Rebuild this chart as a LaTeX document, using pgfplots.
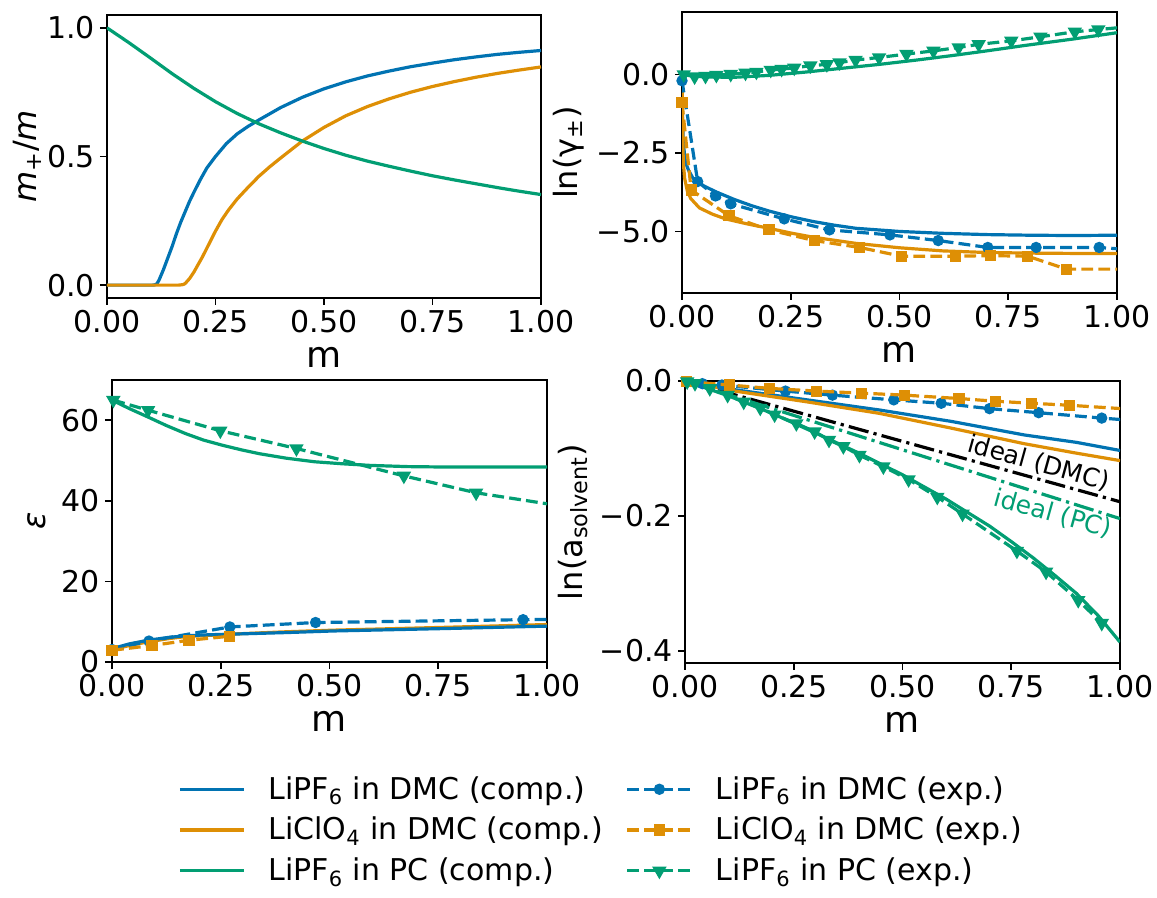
\documentclass[border=0pt]{standalone}
\usepackage{fontspec}
\setmainfont{DejaVu Sans}
\usepackage{pgfplots}
\pgfplotsset{compat=1.18}
\definecolor{cbblue}{HTML}{0173B2}
\definecolor{cborange}{HTML}{DE8F05}
\definecolor{cbgreen}{HTML}{029E73}
\newcommand{\tfs}{\fontsize{15}{18}\selectfont}
\newcommand{\yfs}{\fontsize{16}{19}\selectfont}
\newcommand{\xfs}{\fontsize{18}{21}\selectfont}
\newcommand{\lfs}{\fontsize{15}{18}\selectfont}
\pgfplotsset{
  panel/.style={
    scale only axis, xmin=0, xmax=1,
    axis line style={line width=0.8pt},
    tick align=outside, tick pos=left, major tick length=3.5pt,
    every tick/.style={black, line width=0.8pt},
    xtick={0,0.25,0.5,0.75,1}, xticklabels={0.00,0.25,0.50,0.75,1.00},
    tick label style={font=\tfs, inner sep=2.4pt},
    ylabel style={font=\yfs, inner sep=0pt},
    xlabel style={font=\xfs, inner sep=4.5pt},
    xlabel={m},
    clip=true, clip mode=individual,
  },
  comp/.style={line width=1.6pt, no markers},
  exp/.style={line width=1.6pt, dash pattern=on 5.9pt off 2.6pt, mark options={solid}},
  legend image code/.code={\draw[mark repeat=2,mark phase=2] plot coordinates {(0pt,0pt) (16pt,0pt) (32pt,0pt)};},
}
\begin{document}
\begin{tikzpicture}
\useasboundingbox (0,0) rectangle (578.5pt,449pt);
% ---------------- top left
\begin{axis}[panel, at={(53.5pt,300pt)}, anchor=south west, width=217pt, height=141.5pt,
  ymin=-0.05, ymax=1.05, ytick={0,0.5,1}, yticklabels={0.0,0.5,1.0},
  ylabel={\textit{m}\textsubscript{+}/\textit{m}}]
\addplot[comp, cbblue] coordinates {(0,0) (0.105,0) (0.11,0.001) (0.115,0.005) (0.12,0.02) (0.13,0.06) (0.14,0.105) (0.15,0.15) (0.16,0.2) (0.17,0.245) (0.18,0.285) (0.19,0.325) (0.2,0.36) (0.215,0.41) (0.23,0.455) (0.25,0.5) (0.275,0.55) (0.3,0.588) (0.325,0.617) (0.35,0.642) (0.4,0.69) (0.45,0.73) (0.5,0.763) (0.55,0.79) (0.6,0.813) (0.65,0.832) (0.7,0.849) (0.75,0.863) (0.8,0.876) (0.85,0.887) (0.9,0.897) (0.95,0.905) (1.0,0.912)};
\addplot[comp, cborange] coordinates {(0,0) (0.165,0) (0.175,0.002) (0.18,0.006) (0.19,0.025) (0.2,0.05) (0.21,0.08) (0.22,0.11) (0.235,0.16) (0.25,0.21) (0.265,0.255) (0.28,0.292) (0.3,0.335) (0.325,0.38) (0.35,0.423) (0.375,0.46) (0.4,0.494) (0.45,0.56) (0.5,0.613) (0.55,0.658) (0.6,0.694) (0.65,0.724) (0.7,0.75) (0.75,0.772) (0.8,0.791) (0.85,0.808) (0.9,0.823) (0.95,0.836) (1.0,0.848)};
\addplot[comp, cbgreen] coordinates {(0,1.0) (0.05,0.943) (0.1,0.883) (0.15,0.822) (0.2,0.765) (0.25,0.713) (0.3,0.667) (0.35,0.627) (0.4,0.592) (0.45,0.56) (0.5,0.531) (0.55,0.505) (0.6,0.482) (0.65,0.462) (0.7,0.443) (0.75,0.425) (0.8,0.409) (0.85,0.394) (0.9,0.379) (0.95,0.365) (1.0,0.352)};
\end{axis}
% ---------------- top right
\begin{axis}[panel, at={(341pt,302.5pt)}, anchor=south west, width=217.5pt, height=140.5pt,
  ymin=-6.96, ymax=1.99, ytick={-5,-2.5,0}, yticklabels={−5.0,−2.5,0.0},
  ylabel={ln(γ\textsubscript{±})}, ylabel style={yshift=3.8pt}]
\addplot[comp, cbblue] coordinates {(0,0) (0.001,-1.2) (0.003,-2.2) (0.008,-2.8) (0.015,-3.05) (0.025,-3.3) (0.05,-3.55) (0.08,-3.75) (0.12,-3.98) (0.16,-4.18) (0.2,-4.35) (0.25,-4.53) (0.3,-4.68) (0.35,-4.8) (0.4,-4.9) (0.5,-5.0) (0.6,-5.06) (0.7,-5.1) (0.8,-5.12) (0.9,-5.13) (1.0,-5.12)};
\addplot[comp, cborange] coordinates {(0,0) (0.001,-1.5) (0.003,-2.8) (0.006,-3.3) (0.012,-3.7) (0.02,-3.95) (0.04,-4.25) (0.07,-4.45) (0.1,-4.6) (0.15,-4.76) (0.2,-4.9) (0.25,-5.05) (0.3,-5.18) (0.4,-5.38) (0.5,-5.52) (0.6,-5.62) (0.7,-5.67) (0.8,-5.69) (0.9,-5.7) (1.0,-5.7)};
\addplot[comp, cbgreen] coordinates {(0,0) (0.05,-0.08) (0.12,-0.09) (0.2,-0.03) (0.287,0.08) (0.37,0.2) (0.453,0.32) (0.54,0.46) (0.62,0.6) (0.7,0.75) (0.786,0.92) (0.9,1.13) (1.0,1.33)};
\addplot[exp, cbblue, mark=*, mark size=2pt] coordinates {(0,-0.2) (0.036,-3.41) (0.077,-3.87) (0.112,-4.12) (0.235,-4.60) (0.339,-4.95) (0.478,-5.11) (0.589,-5.29) (0.703,-5.51) (0.814,-5.51) (0.959,-5.51) (1.1,-5.65)};
\addplot[exp, cborange, mark=square*, mark size=2pt] coordinates {(0,-0.9) (0.021,-3.68) (0.108,-4.50) (0.20,-4.95) (0.304,-5.29) (0.408,-5.51) (0.505,-5.79) (0.628,-5.79) (0.710,-5.77) (0.795,-5.79) (0.884,-6.20) (1.1,-6.20)};
\addplot[exp, cbgreen, mark=triangle*, mark size=2.6pt, mark options={solid, rotate=180}] coordinates {(0.004,0.0) (0.029,-0.07) (0.054,-0.05) (0.079,-0.02) (0.112,0.01) (0.146,0.05) (0.171,0.08) (0.204,0.14) (0.229,0.17) (0.258,0.21) (0.295,0.28) (0.333,0.32) (0.362,0.38) (0.399,0.46) (0.453,0.54) (0.516,0.65) (0.578,0.75) (0.636,0.86) (0.682,0.96) (0.757,1.07) (0.824,1.20) (0.903,1.36) (0.957,1.43) (1.05,1.55)};
\end{axis}
% ---------------- bottom left
\begin{axis}[panel, at={(56pt,118pt)}, anchor=south west, width=217.5pt, height=141pt,
  ymin=0, ymax=70, ytick={0,20,40,60}, yticklabels={0,20,40,60},
  ylabel={\textit{ε}}, ylabel style={yshift=5pt}]
\addplot[comp, cborange] coordinates {(0,3.0) (0.04,4.1) (0.083,5.0) (0.13,5.8) (0.169,6.3) (0.22,6.6) (0.27,6.9) (0.4,7.5) (0.509,7.9) (0.764,8.6) (1.0,9.3)};
\addplot[comp, cbblue] coordinates {(0,3.3) (0.04,4.5) (0.083,5.4) (0.13,6.1) (0.169,6.5) (0.22,6.75) (0.27,6.9) (0.4,7.3) (0.509,7.7) (0.764,8.3) (1.0,8.9)};
\addplot[comp, cbgreen] coordinates {(0,65.0) (0.04,62.9) (0.083,60.8) (0.125,58.7) (0.169,56.7) (0.21,55.1) (0.254,53.8) (0.3,52.6) (0.339,51.7) (0.4,50.6) (0.466,49.7) (0.53,49.2) (0.594,48.8) (0.68,48.5) (0.764,48.4) (0.88,48.4) (1.0,48.4)};
\addplot[exp, cbblue, mark=*, mark size=2pt] coordinates {(0,3.1) (0.085,5.2) (0.271,8.7) (0.468,9.8) (0.945,10.5) (1.1,10.7)};
\addplot[exp, cborange, mark=square*, mark size=2pt] coordinates {(0,2.9) (0.092,4.1) (0.177,5.4) (0.271,6.4)};
\addplot[exp, cbgreen, mark=triangle*, mark size=2.6pt, mark options={solid, rotate=180}] coordinates {(0.003,65.0) (0.083,62.5) (0.249,57.4) (0.424,53.0) (0.671,46.2) (0.837,42.0) (1.1,37.6)};
\end{axis}
% ---------------- bottom right
\begin{axis}[panel, at={(342.5pt,117.5pt)}, anchor=south west, width=217.5pt, height=141pt,
  ymin=-0.418, ymax=0, ytick={-0.4,-0.2,0}, yticklabels={−0.4,−0.2,0.0},
  ylabel={ln(a\textsubscript{solvent})}, ylabel style={yshift=3.5pt}]
\addplot[line width=1.6pt, black, dash pattern=on 10.2pt off 2.6pt on 1.6pt off 2.6pt] coordinates {(0,0) (0.5,-0.0895) (1.0,-0.179)};
\addplot[line width=1.6pt, cbgreen, dash pattern=on 10.2pt off 2.6pt on 1.6pt off 2.6pt] coordinates {(0,0) (0.5,-0.102) (1.0,-0.204)};
\addplot[comp, cbblue] coordinates {(0,0) (0.115,-0.013) (0.281,-0.028) (0.447,-0.043) (0.613,-0.060) (0.78,-0.080) (0.9,-0.091) (1.0,-0.103)};
\addplot[comp, cborange] coordinates {(0,0) (0.115,-0.015) (0.281,-0.031) (0.447,-0.048) (0.613,-0.070) (0.78,-0.093) (0.9,-0.107) (1.0,-0.118)};
\addplot[comp, cbgreen] coordinates {(0,0) (0.1,-0.022) (0.2,-0.048) (0.3,-0.077) (0.4,-0.107) (0.5,-0.139) (0.6,-0.175) (0.7,-0.215) (0.75,-0.238) (0.8,-0.262) (0.85,-0.288) (0.9,-0.315) (0.95,-0.348) (1.0,-0.387)};
\addplot[exp, cbblue, mark=*, mark size=2pt] coordinates {(0.04,-0.004) (0.085,-0.006) (0.231,-0.015) (0.339,-0.021) (0.48,-0.028) (0.589,-0.033) (0.70,-0.041) (0.813,-0.047) (0.958,-0.055) (1.1,-0.062)};
\addplot[exp, cborange, mark=square*, mark size=2pt] coordinates {(0.004,-0.001) (0.103,-0.006) (0.195,-0.011) (0.303,-0.015) (0.406,-0.018) (0.505,-0.021) (0.63,-0.026) (0.713,-0.030) (0.796,-0.033) (0.884,-0.036) (1.1,-0.045)};
\addplot[exp, cbgreen, mark=triangle*, mark size=2.6pt, mark options={solid, rotate=180}] coordinates {(0.005,-0.001) (0.023,-0.0035) (0.057,-0.011) (0.098,-0.021) (0.135,-0.031) (0.173,-0.040) (0.206,-0.050) (0.256,-0.063) (0.298,-0.075) (0.331,-0.0875) (0.364,-0.097) (0.401,-0.110) (0.456,-0.127) (0.514,-0.146) (0.580,-0.172) (0.638,-0.197) (0.763,-0.252) (0.830,-0.283) (0.904,-0.325) (0.958,-0.359)};
\node[rotate=-15.5, black, font=\fontsize{12.5}{15}\selectfont] at (axis cs:0.813,-0.122) {ideal (DMC)};
\node[rotate=-15.5, cbgreen, font=\fontsize{12.5}{15}\selectfont] at (axis cs:0.846,-0.197) {ideal (PC)};
\end{axis}
% ---------------- legend
\begin{axis}[at={(0pt,0pt)}, anchor=south west, scale only axis, width=578.5pt, height=61.5pt,
  hide axis, xmin=0, xmax=1, ymin=0, ymax=1,
  legend columns=2,
  legend style={at={(0.1538,0.992)}, anchor=north west, draw=none, fill=none, inner sep=0pt,
    font=\lfs, legend cell align=left, row sep=7.5pt, nodes={inner sep=0pt},
    /tikz/every odd column/.append style={column sep=11.5pt},
    /tikz/every even column/.append style={column sep=11.5pt}}]
\addlegendimage{line width=1.6pt, cbblue}
\addlegendentry{LiPF\textsubscript{6} in DMC (comp.)}
\addlegendimage{line width=1.6pt, cbblue, dash pattern=on 5.9pt off 2.6pt, mark=*, mark size=2pt, mark options={solid}}
\addlegendentry{LiPF\textsubscript{6} in DMC (exp.)}
\addlegendimage{line width=1.6pt, cborange}
\addlegendentry{LiClO\textsubscript{4} in DMC (comp.)}
\addlegendimage{line width=1.6pt, cborange, dash pattern=on 5.9pt off 2.6pt, mark=square*, mark size=2pt, mark options={solid}}
\addlegendentry{LiClO\textsubscript{4} in DMC (exp.)}
\addlegendimage{line width=1.6pt, cbgreen}
\addlegendentry{LiPF\textsubscript{6} in PC (comp.)}
\addlegendimage{line width=1.6pt, cbgreen, dash pattern=on 5.9pt off 2.6pt, mark=triangle*, mark size=2.6pt, mark options={solid, rotate=180}}
\addlegendentry{LiPF\textsubscript{6} in PC (exp.)}
\end{axis}
\end{tikzpicture}
\end{document}
